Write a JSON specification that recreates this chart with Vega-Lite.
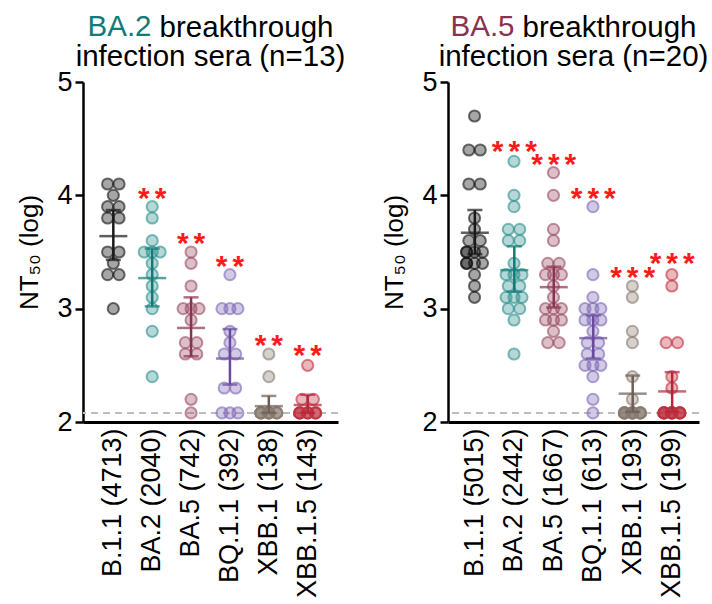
{
  "$schema": "https://vega.github.io/schema/vega-lite/v6.json",
  "background": "white",
  "padding": {"left": 16, "top": 12, "right": 10, "bottom": 0},
  "config": {
    "font": "Liberation Sans",
    "view": {"stroke": null},
    "concat": {"spacing": 35},
    "axisY": {"domainColor": "#000000", "domainWidth": 2.5, "tickColor": "#000000", "tickWidth": 2.5, "tickSize": 8, "labelFontSize": 27, "labelPadding": 3, "labelColor": "#000000", "titleFontSize": 26, "titleFontWeight": "normal", "titleColor": "#000000", "titlePadding": 14, "grid": false, "labelFont": "Liberation Sans", "titleFont": "Liberation Sans"},
    "axisX": {"domainColor": "#000000", "domainWidth": 3, "ticks": false, "labelAngle": 270, "labelAlign": "right", "labelBaseline": "middle", "labelFontSize": 27, "labelPadding": 6, "grid": false, "labelFont": "Liberation Sans"},
    "title": {"font": "Liberation Sans", "subtitleFont": "Liberation Sans", "fontSize": 29.5, "subtitleFontSize": 29.5, "fontWeight": "normal", "subtitleFontWeight": "normal", "subtitleColor": "#000000", "anchor": "middle", "frame": "group", "lineHeight": 29, "subtitleLineHeight": 29, "subtitlePadding": -29, "offset": -4}
  },
  "datasets": {
    "pts": [
      {"p": "A", "v": "B.1.1", "y": 4.1}, {"p": "A", "v": "B.1.1", "y": 4.1}, {"p": "A", "v": "B.1.1", "y": 4.0}, {"p": "A", "v": "B.1.1", "y": 3.9}, {"p": "A", "v": "B.1.1", "y": 3.9}, {"p": "A", "v": "B.1.1", "y": 3.8}, {"p": "A", "v": "B.1.1", "y": 3.8}, {"p": "A", "v": "B.1.1", "y": 3.5}, {"p": "A", "v": "B.1.1", "y": 3.5}, {"p": "A", "v": "B.1.1", "y": 3.4}, {"p": "A", "v": "B.1.1", "y": 3.3}, {"p": "A", "v": "B.1.1", "y": 3.3}, {"p": "A", "v": "B.1.1", "y": 3.0},
      {"p": "A", "v": "BA.2", "y": 3.9}, {"p": "A", "v": "BA.2", "y": 3.8}, {"p": "A", "v": "BA.2", "y": 3.6}, {"p": "A", "v": "BA.2", "y": 3.5}, {"p": "A", "v": "BA.2", "y": 3.5}, {"p": "A", "v": "BA.2", "y": 3.5}, {"p": "A", "v": "BA.2", "y": 3.4}, {"p": "A", "v": "BA.2", "y": 3.3}, {"p": "A", "v": "BA.2", "y": 3.2}, {"p": "A", "v": "BA.2", "y": 3.1}, {"p": "A", "v": "BA.2", "y": 3.0}, {"p": "A", "v": "BA.2", "y": 2.8}, {"p": "A", "v": "BA.2", "y": 2.4},
      {"p": "A", "v": "BA.5", "y": 3.5}, {"p": "A", "v": "BA.5", "y": 3.4}, {"p": "A", "v": "BA.5", "y": 3.2}, {"p": "A", "v": "BA.5", "y": 3.0}, {"p": "A", "v": "BA.5", "y": 3.0}, {"p": "A", "v": "BA.5", "y": 3.0}, {"p": "A", "v": "BA.5", "y": 2.9}, {"p": "A", "v": "BA.5", "y": 2.7}, {"p": "A", "v": "BA.5", "y": 2.7}, {"p": "A", "v": "BA.5", "y": 2.6}, {"p": "A", "v": "BA.5", "y": 2.6}, {"p": "A", "v": "BA.5", "y": 2.2}, {"p": "A", "v": "BA.5", "y": 2.08},
      {"p": "A", "v": "BQ.1.1", "y": 3.3}, {"p": "A", "v": "BQ.1.1", "y": 3.0}, {"p": "A", "v": "BQ.1.1", "y": 3.0}, {"p": "A", "v": "BQ.1.1", "y": 3.0}, {"p": "A", "v": "BQ.1.1", "y": 2.8}, {"p": "A", "v": "BQ.1.1", "y": 2.7}, {"p": "A", "v": "BQ.1.1", "y": 2.6}, {"p": "A", "v": "BQ.1.1", "y": 2.6}, {"p": "A", "v": "BQ.1.1", "y": 2.3}, {"p": "A", "v": "BQ.1.1", "y": 2.3}, {"p": "A", "v": "BQ.1.1", "y": 2.08}, {"p": "A", "v": "BQ.1.1", "y": 2.08}, {"p": "A", "v": "BQ.1.1", "y": 2.08},
      {"p": "A", "v": "XBB.1", "y": 2.6}, {"p": "A", "v": "XBB.1", "y": 2.4}, {"p": "A", "v": "XBB.1", "y": 2.08}, {"p": "A", "v": "XBB.1", "y": 2.08}, {"p": "A", "v": "XBB.1", "y": 2.08}, {"p": "A", "v": "XBB.1", "y": 2.08}, {"p": "A", "v": "XBB.1", "y": 2.08}, {"p": "A", "v": "XBB.1", "y": 2.08}, {"p": "A", "v": "XBB.1", "y": 2.08}, {"p": "A", "v": "XBB.1", "y": 2.08}, {"p": "A", "v": "XBB.1", "y": 2.08}, {"p": "A", "v": "XBB.1", "y": 2.08}, {"p": "A", "v": "XBB.1", "y": 2.08},
      {"p": "A", "v": "XBB.1.5", "y": 2.5}, {"p": "A", "v": "XBB.1.5", "y": 2.2}, {"p": "A", "v": "XBB.1.5", "y": 2.2}, {"p": "A", "v": "XBB.1.5", "y": 2.08}, {"p": "A", "v": "XBB.1.5", "y": 2.08}, {"p": "A", "v": "XBB.1.5", "y": 2.08}, {"p": "A", "v": "XBB.1.5", "y": 2.08}, {"p": "A", "v": "XBB.1.5", "y": 2.08}, {"p": "A", "v": "XBB.1.5", "y": 2.08}, {"p": "A", "v": "XBB.1.5", "y": 2.08}, {"p": "A", "v": "XBB.1.5", "y": 2.08}, {"p": "A", "v": "XBB.1.5", "y": 2.08}, {"p": "A", "v": "XBB.1.5", "y": 2.08},
      {"p": "B", "v": "B.1.1", "y": 4.7}, {"p": "B", "v": "B.1.1", "y": 4.4}, {"p": "B", "v": "B.1.1", "y": 4.4}, {"p": "B", "v": "B.1.1", "y": 4.1}, {"p": "B", "v": "B.1.1", "y": 4.1}, {"p": "B", "v": "B.1.1", "y": 3.8}, {"p": "B", "v": "B.1.1", "y": 3.7}, {"p": "B", "v": "B.1.1", "y": 3.6}, {"p": "B", "v": "B.1.1", "y": 3.6}, {"p": "B", "v": "B.1.1", "y": 3.5}, {"p": "B", "v": "B.1.1", "y": 3.5}, {"p": "B", "v": "B.1.1", "y": 3.5}, {"p": "B", "v": "B.1.1", "y": 3.5}, {"p": "B", "v": "B.1.1", "y": 3.4}, {"p": "B", "v": "B.1.1", "y": 3.4}, {"p": "B", "v": "B.1.1", "y": 3.4}, {"p": "B", "v": "B.1.1", "y": 3.4}, {"p": "B", "v": "B.1.1", "y": 3.3}, {"p": "B", "v": "B.1.1", "y": 3.2}, {"p": "B", "v": "B.1.1", "y": 3.1},
      {"p": "B", "v": "BA.2", "y": 4.3}, {"p": "B", "v": "BA.2", "y": 4.0}, {"p": "B", "v": "BA.2", "y": 3.9}, {"p": "B", "v": "BA.2", "y": 3.7}, {"p": "B", "v": "BA.2", "y": 3.7}, {"p": "B", "v": "BA.2", "y": 3.6}, {"p": "B", "v": "BA.2", "y": 3.6}, {"p": "B", "v": "BA.2", "y": 3.4}, {"p": "B", "v": "BA.2", "y": 3.3}, {"p": "B", "v": "BA.2", "y": 3.3}, {"p": "B", "v": "BA.2", "y": 3.3}, {"p": "B", "v": "BA.2", "y": 3.2}, {"p": "B", "v": "BA.2", "y": 3.2}, {"p": "B", "v": "BA.2", "y": 3.1}, {"p": "B", "v": "BA.2", "y": 3.1}, {"p": "B", "v": "BA.2", "y": 3.1}, {"p": "B", "v": "BA.2", "y": 3.0}, {"p": "B", "v": "BA.2", "y": 3.0}, {"p": "B", "v": "BA.2", "y": 2.9}, {"p": "B", "v": "BA.2", "y": 2.6},
      {"p": "B", "v": "BA.5", "y": 4.2}, {"p": "B", "v": "BA.5", "y": 4.0}, {"p": "B", "v": "BA.5", "y": 3.7}, {"p": "B", "v": "BA.5", "y": 3.6}, {"p": "B", "v": "BA.5", "y": 3.4}, {"p": "B", "v": "BA.5", "y": 3.4}, {"p": "B", "v": "BA.5", "y": 3.3}, {"p": "B", "v": "BA.5", "y": 3.3}, {"p": "B", "v": "BA.5", "y": 3.3}, {"p": "B", "v": "BA.5", "y": 3.2}, {"p": "B", "v": "BA.5", "y": 3.1}, {"p": "B", "v": "BA.5", "y": 3.0}, {"p": "B", "v": "BA.5", "y": 3.0}, {"p": "B", "v": "BA.5", "y": 3.0}, {"p": "B", "v": "BA.5", "y": 2.9}, {"p": "B", "v": "BA.5", "y": 2.9}, {"p": "B", "v": "BA.5", "y": 2.9}, {"p": "B", "v": "BA.5", "y": 2.8}, {"p": "B", "v": "BA.5", "y": 2.7}, {"p": "B", "v": "BA.5", "y": 2.7},
      {"p": "B", "v": "BQ.1.1", "y": 3.9}, {"p": "B", "v": "BQ.1.1", "y": 3.3}, {"p": "B", "v": "BQ.1.1", "y": 3.1}, {"p": "B", "v": "BQ.1.1", "y": 3.0}, {"p": "B", "v": "BQ.1.1", "y": 3.0}, {"p": "B", "v": "BQ.1.1", "y": 3.0}, {"p": "B", "v": "BQ.1.1", "y": 2.9}, {"p": "B", "v": "BQ.1.1", "y": 2.9}, {"p": "B", "v": "BQ.1.1", "y": 2.9}, {"p": "B", "v": "BQ.1.1", "y": 2.8}, {"p": "B", "v": "BQ.1.1", "y": 2.7}, {"p": "B", "v": "BQ.1.1", "y": 2.7}, {"p": "B", "v": "BQ.1.1", "y": 2.6}, {"p": "B", "v": "BQ.1.1", "y": 2.6}, {"p": "B", "v": "BQ.1.1", "y": 2.5}, {"p": "B", "v": "BQ.1.1", "y": 2.5}, {"p": "B", "v": "BQ.1.1", "y": 2.5}, {"p": "B", "v": "BQ.1.1", "y": 2.4}, {"p": "B", "v": "BQ.1.1", "y": 2.2}, {"p": "B", "v": "BQ.1.1", "y": 2.08},
      {"p": "B", "v": "XBB.1", "y": 3.2}, {"p": "B", "v": "XBB.1", "y": 3.1}, {"p": "B", "v": "XBB.1", "y": 2.8}, {"p": "B", "v": "XBB.1", "y": 2.7}, {"p": "B", "v": "XBB.1", "y": 2.4}, {"p": "B", "v": "XBB.1", "y": 2.2}, {"p": "B", "v": "XBB.1", "y": 2.08}, {"p": "B", "v": "XBB.1", "y": 2.08}, {"p": "B", "v": "XBB.1", "y": 2.08}, {"p": "B", "v": "XBB.1", "y": 2.08}, {"p": "B", "v": "XBB.1", "y": 2.08}, {"p": "B", "v": "XBB.1", "y": 2.08}, {"p": "B", "v": "XBB.1", "y": 2.08}, {"p": "B", "v": "XBB.1", "y": 2.08}, {"p": "B", "v": "XBB.1", "y": 2.08}, {"p": "B", "v": "XBB.1", "y": 2.08}, {"p": "B", "v": "XBB.1", "y": 2.08}, {"p": "B", "v": "XBB.1", "y": 2.08}, {"p": "B", "v": "XBB.1", "y": 2.08}, {"p": "B", "v": "XBB.1", "y": 2.08},
      {"p": "B", "v": "XBB.1.5", "y": 3.3}, {"p": "B", "v": "XBB.1.5", "y": 3.2}, {"p": "B", "v": "XBB.1.5", "y": 2.7}, {"p": "B", "v": "XBB.1.5", "y": 2.7}, {"p": "B", "v": "XBB.1.5", "y": 2.4}, {"p": "B", "v": "XBB.1.5", "y": 2.3}, {"p": "B", "v": "XBB.1.5", "y": 2.08}, {"p": "B", "v": "XBB.1.5", "y": 2.08}, {"p": "B", "v": "XBB.1.5", "y": 2.08}, {"p": "B", "v": "XBB.1.5", "y": 2.08}, {"p": "B", "v": "XBB.1.5", "y": 2.08}, {"p": "B", "v": "XBB.1.5", "y": 2.08}, {"p": "B", "v": "XBB.1.5", "y": 2.08}, {"p": "B", "v": "XBB.1.5", "y": 2.08}, {"p": "B", "v": "XBB.1.5", "y": 2.08}, {"p": "B", "v": "XBB.1.5", "y": 2.08}, {"p": "B", "v": "XBB.1.5", "y": 2.08}, {"p": "B", "v": "XBB.1.5", "y": 2.08}, {"p": "B", "v": "XBB.1.5", "y": 2.08}, {"p": "B", "v": "XBB.1.5", "y": 2.08}
    ],
    "stats": [
      {"p": "A", "v": "B.1.1", "mean": 3.64, "lo": 3.43, "hi": 3.87},
      {"p": "A", "v": "BA.2", "mean": 3.27, "lo": 3.02, "hi": 3.53},
      {"p": "A", "v": "BA.5", "mean": 2.83, "lo": 2.58, "hi": 3.10},
      {"p": "A", "v": "BQ.1.1", "mean": 2.56, "lo": 2.33, "hi": 2.82},
      {"p": "A", "v": "XBB.1", "mean": 2.14, "lo": 2.08, "hi": 2.23},
      {"p": "A", "v": "XBB.1.5", "mean": 2.15, "lo": 2.08, "hi": 2.24},
      {"p": "B", "v": "B.1.1", "mean": 3.67, "lo": 3.48, "hi": 3.87},
      {"p": "B", "v": "BA.2", "mean": 3.34, "lo": 3.15, "hi": 3.55},
      {"p": "B", "v": "BA.5", "mean": 3.19, "lo": 3.01, "hi": 3.37},
      {"p": "B", "v": "BQ.1.1", "mean": 2.74, "lo": 2.56, "hi": 2.94},
      {"p": "B", "v": "XBB.1", "mean": 2.25, "lo": 2.09, "hi": 2.41},
      {"p": "B", "v": "XBB.1.5", "mean": 2.27, "lo": 2.09, "hi": 2.44}
    ],
    "stars": [
      {"p": "A", "v": "BA.2", "y": 4.05, "s": "*\u2006*"},
      {"p": "A", "v": "BA.5", "y": 3.65, "s": "*\u2006*"},
      {"p": "A", "v": "BQ.1.1", "y": 3.45, "s": "*\u2006*"},
      {"p": "A", "v": "XBB.1", "y": 2.75, "s": "*\u2006*"},
      {"p": "A", "v": "XBB.1.5", "y": 2.66, "s": "*\u2006*"},
      {"p": "B", "v": "BA.2", "y": 4.46, "s": "*\u2006*\u2006*"},
      {"p": "B", "v": "BA.5", "y": 4.35, "s": "*\u2006*\u2006*"},
      {"p": "B", "v": "BQ.1.1", "y": 4.05, "s": "*\u2006*\u2006*"},
      {"p": "B", "v": "XBB.1", "y": 3.35, "s": "*\u2006*\u2006*"},
      {"p": "B", "v": "XBB.1.5", "y": 3.47, "s": "*\u2006*\u2006*"}
    ],
    "lod": [{"y": 2.08}]
  },
  "hconcat": [
    {
      "width": 255,
      "height": 340,
      "title": {"text": "BA.2\u2003\u2003\u2003\u2003\u2003\u2003\u2006\u200b", "color": "#137a77", "subtitle": ["\u200b\u2003\u2003\u2006 breakthrough", "infection sera (n=13)"]},
      "encoding": {
        "x": {"field": "v", "type": "nominal", "sort": ["B.1.1", "BA.2", "BA.5", "BQ.1.1", "XBB.1", "XBB.1.5"], "scale": {"type": "band", "paddingInner": 0, "paddingOuter": 0.28}, "title": null,
          "axis": {"labelExpr": "datum.value == 'B.1.1' ? 'B.1.1 (4713)' : datum.value == 'BA.2' ? 'BA.2 (2040)' : datum.value == 'BA.5' ? 'BA.5 (742)' : datum.value == 'BQ.1.1' ? 'BQ.1.1 (392)' : datum.value == 'XBB.1' ? 'XBB.1 (138)' : 'XBB.1.5 (143)'",
            "encode": {"labels": {"update": {"fill": {"signal": "datum.value == 'B.1.1' ? '#111111' : datum.value == 'BA.2' ? '#137a77' : datum.value == 'BA.5' ? '#8a3350' : datum.value == 'BQ.1.1' ? '#6a4a9c' : datum.value == 'XBB.1' ? '#6e5e55' : '#c0283a'"}}}}}}
      },
      "layer": [
        {
          "data": {"name": "lod"},
          "mark": {"type": "rule", "color": "#bdbdbd", "strokeWidth": 2, "strokeDash": [7, 5]},
          "encoding": {"x": null, "y": {"field": "y", "type": "quantitative", "scale": {"domain": [2, 5], "nice": false, "zero": false}, "axis": {"values": [2, 3, 4, 5], "format": "d"}, "title": "NT\u2085\u2080 (log)"}}
        },
        {
          "data": {"name": "pts"},
          "transform": [
            {"filter": "datum.p == 'A'"},
            {"joinaggregate": [{"op": "count", "as": "cnt"}], "groupby": ["v", "y"]},
            {"window": [{"op": "row_number", "as": "rn"}], "groupby": ["v", "y"]},
            {"calculate": "datum.cnt == 1 ? 0 : datum.cnt == 2 ? (datum.rn - 1.5) * 11.5 : ((datum.rn - 1) % 3 - 1) * 8", "as": "off"}
          ],
          "mark": {"type": "circle", "size": 125, "fillOpacity": 0.35, "strokeOpacity": 0.6, "strokeWidth": 2},
          "encoding": {
            "xOffset": {"field": "off", "type": "quantitative", "scale": {"domain": [-19.6, 19.6]}},
            "y": {"field": "y", "type": "quantitative", "scale": {"domain": [2, 5], "nice": false, "zero": false}, "axis": {"values": [2, 3, 4, 5], "format": "d"}, "title": "NT\u2085\u2080 (log)"},
            "fill": {"field": "v", "type": "nominal", "legend": null, "scale": {"domain": ["B.1.1", "BA.2", "BA.5", "BQ.1.1", "XBB.1", "XBB.1.5"], "range": ["#000000", "#2a8f8c", "#9a4a62", "#7d68b5", "#887a70", "#c03040"]}},
            "stroke": {"field": "v", "type": "nominal", "legend": null, "scale": {"domain": ["B.1.1", "BA.2", "BA.5", "BQ.1.1", "XBB.1", "XBB.1.5"], "range": ["#101010", "#2a8f8c", "#9a4a62", "#7d68b5", "#887a70", "#c03040"]}}
          }
        },
        {
          "data": {"name": "stats"},
          "transform": [{"filter": "datum.p == 'A'"}],
          "mark": {"type": "rule", "strokeWidth": 2.5},
          "encoding": {
            "y": {"field": "lo", "type": "quantitative", "scale": {"domain": [2, 5], "nice": false, "zero": false}, "axis": {"values": [2, 3, 4, 5], "format": "d"}, "title": "NT\u2085\u2080 (log)"},
            "y2": {"field": "hi"},
            "color": {"field": "v", "type": "nominal", "legend": null, "scale": {"domain": ["B.1.1", "BA.2", "BA.5", "BQ.1.1", "XBB.1", "XBB.1.5"], "range": ["#1a1a1a", "#137a77", "#8a3350", "#6a4a9c", "#6e5e55", "#b5263a"]}}
          }
        },
        {
          "data": {"name": "stats"},
          "transform": [{"filter": "datum.p == 'A'"}],
          "mark": {"type": "tick", "thickness": 2.5, "size": 28},
          "encoding": {
            "y": {"field": "mean", "type": "quantitative", "scale": {"domain": [2, 5], "nice": false, "zero": false}, "axis": {"values": [2, 3, 4, 5], "format": "d"}, "title": "NT\u2085\u2080 (log)"},
            "color": {"field": "v", "type": "nominal", "legend": null}
          }
        },
        {
          "data": {"name": "stats"},
          "transform": [{"filter": "datum.p == 'A'"}],
          "mark": {"type": "tick", "thickness": 2.5, "size": 15},
          "encoding": {
            "y": {"field": "lo", "type": "quantitative", "scale": {"domain": [2, 5], "nice": false, "zero": false}, "axis": {"values": [2, 3, 4, 5], "format": "d"}, "title": "NT\u2085\u2080 (log)"},
            "color": {"field": "v", "type": "nominal", "legend": null}
          }
        },
        {
          "data": {"name": "stats"},
          "transform": [{"filter": "datum.p == 'A'"}],
          "mark": {"type": "tick", "thickness": 2.5, "size": 15},
          "encoding": {
            "y": {"field": "hi", "type": "quantitative", "scale": {"domain": [2, 5], "nice": false, "zero": false}, "axis": {"values": [2, 3, 4, 5], "format": "d"}, "title": "NT\u2085\u2080 (log)"},
            "color": {"field": "v", "type": "nominal", "legend": null}
          }
        },
        {
          "data": {"name": "stars"},
          "transform": [{"filter": "datum.p == 'A'"}],
          "mark": {"type": "text", "color": "#ff1a1a", "fontSize": 30, "fontWeight": "bold", "baseline": "middle", "dy": 9, "font": "Liberation Sans"},
          "encoding": {
            "y": {"field": "y", "type": "quantitative", "scale": {"domain": [2, 5], "nice": false, "zero": false}, "axis": {"values": [2, 3, 4, 5], "format": "d"}, "title": "NT\u2085\u2080 (log)"},
            "text": {"field": "s"}
          }
        }
      ]
    },
    {
      "width": 251,
      "height": 340,
      "title": {"text": "BA.5\u2003\u2003\u2003\u2003\u2003\u2003\u2006\u200b", "color": "#8a3350", "subtitle": ["\u200b\u2003\u2003\u2006 breakthrough", "infection sera (n=20)"]},
      "encoding": {
        "x": {"field": "v", "type": "nominal", "sort": ["B.1.1", "BA.2", "BA.5", "BQ.1.1", "XBB.1", "XBB.1.5"], "scale": {"type": "band", "paddingInner": 0, "paddingOuter": 0.18}, "title": null,
          "axis": {"labelExpr": "datum.value == 'B.1.1' ? 'B.1.1 (5015)' : datum.value == 'BA.2' ? 'BA.2 (2442)' : datum.value == 'BA.5' ? 'BA.5 (1667)' : datum.value == 'BQ.1.1' ? 'BQ.1.1 (613)' : datum.value == 'XBB.1' ? 'XBB.1 (193)' : 'XBB.1.5 (199)'",
            "encode": {"labels": {"update": {"fill": {"signal": "datum.value == 'B.1.1' ? '#111111' : datum.value == 'BA.2' ? '#137a77' : datum.value == 'BA.5' ? '#8a3350' : datum.value == 'BQ.1.1' ? '#6a4a9c' : datum.value == 'XBB.1' ? '#6e5e55' : '#c0283a'"}}}}}}
      },
      "layer": [
        {
          "data": {"name": "lod"},
          "mark": {"type": "rule", "color": "#bdbdbd", "strokeWidth": 2, "strokeDash": [7, 5]},
          "encoding": {"x": null, "y": {"field": "y", "type": "quantitative", "scale": {"domain": [2, 5], "nice": false, "zero": false}, "axis": {"values": [2, 3, 4, 5], "format": "d"}, "title": "NT\u2085\u2080 (log)"}}
        },
        {
          "data": {"name": "pts"},
          "transform": [
            {"filter": "datum.p == 'B'"},
            {"joinaggregate": [{"op": "count", "as": "cnt"}], "groupby": ["v", "y"]},
            {"window": [{"op": "row_number", "as": "rn"}], "groupby": ["v", "y"]},
            {"calculate": "datum.cnt == 1 ? 0 : datum.cnt == 2 ? (datum.rn - 1.5) * 11.5 : ((datum.rn - 1) % 3 - 1) * 8", "as": "off"}
          ],
          "mark": {"type": "circle", "size": 125, "fillOpacity": 0.35, "strokeOpacity": 0.6, "strokeWidth": 2},
          "encoding": {
            "xOffset": {"field": "off", "type": "quantitative", "scale": {"domain": [-19.6, 19.6]}},
            "y": {"field": "y", "type": "quantitative", "scale": {"domain": [2, 5], "nice": false, "zero": false}, "axis": {"values": [2, 3, 4, 5], "format": "d"}, "title": "NT\u2085\u2080 (log)"},
            "fill": {"field": "v", "type": "nominal", "legend": null, "scale": {"domain": ["B.1.1", "BA.2", "BA.5", "BQ.1.1", "XBB.1", "XBB.1.5"], "range": ["#000000", "#2a8f8c", "#9a4a62", "#7d68b5", "#887a70", "#c03040"]}},
            "stroke": {"field": "v", "type": "nominal", "legend": null, "scale": {"domain": ["B.1.1", "BA.2", "BA.5", "BQ.1.1", "XBB.1", "XBB.1.5"], "range": ["#101010", "#2a8f8c", "#9a4a62", "#7d68b5", "#887a70", "#c03040"]}}
          }
        },
        {
          "data": {"name": "stats"},
          "transform": [{"filter": "datum.p == 'B'"}],
          "mark": {"type": "rule", "strokeWidth": 2.5},
          "encoding": {
            "y": {"field": "lo", "type": "quantitative", "scale": {"domain": [2, 5], "nice": false, "zero": false}, "axis": {"values": [2, 3, 4, 5], "format": "d"}, "title": "NT\u2085\u2080 (log)"},
            "y2": {"field": "hi"},
            "color": {"field": "v", "type": "nominal", "legend": null, "scale": {"domain": ["B.1.1", "BA.2", "BA.5", "BQ.1.1", "XBB.1", "XBB.1.5"], "range": ["#1a1a1a", "#137a77", "#8a3350", "#6a4a9c", "#6e5e55", "#b5263a"]}}
          }
        },
        {
          "data": {"name": "stats"},
          "transform": [{"filter": "datum.p == 'B'"}],
          "mark": {"type": "tick", "thickness": 2.5, "size": 28},
          "encoding": {
            "y": {"field": "mean", "type": "quantitative", "scale": {"domain": [2, 5], "nice": false, "zero": false}, "axis": {"values": [2, 3, 4, 5], "format": "d"}, "title": "NT\u2085\u2080 (log)"},
            "color": {"field": "v", "type": "nominal", "legend": null}
          }
        },
        {
          "data": {"name": "stats"},
          "transform": [{"filter": "datum.p == 'B'"}],
          "mark": {"type": "tick", "thickness": 2.5, "size": 15},
          "encoding": {
            "y": {"field": "lo", "type": "quantitative", "scale": {"domain": [2, 5], "nice": false, "zero": false}, "axis": {"values": [2, 3, 4, 5], "format": "d"}, "title": "NT\u2085\u2080 (log)"},
            "color": {"field": "v", "type": "nominal", "legend": null}
          }
        },
        {
          "data": {"name": "stats"},
          "transform": [{"filter": "datum.p == 'B'"}],
          "mark": {"type": "tick", "thickness": 2.5, "size": 15},
          "encoding": {
            "y": {"field": "hi", "type": "quantitative", "scale": {"domain": [2, 5], "nice": false, "zero": false}, "axis": {"values": [2, 3, 4, 5], "format": "d"}, "title": "NT\u2085\u2080 (log)"},
            "color": {"field": "v", "type": "nominal", "legend": null}
          }
        },
        {
          "data": {"name": "stars"},
          "transform": [{"filter": "datum.p == 'B'"}],
          "mark": {"type": "text", "color": "#ff1a1a", "fontSize": 30, "fontWeight": "bold", "baseline": "middle", "dy": 9, "font": "Liberation Sans"},
          "encoding": {
            "y": {"field": "y", "type": "quantitative", "scale": {"domain": [2, 5], "nice": false, "zero": false}, "axis": {"values": [2, 3, 4, 5], "format": "d"}, "title": "NT\u2085\u2080 (log)"},
            "text": {"field": "s"}
          }
        }
      ]
    }
  ]
}
